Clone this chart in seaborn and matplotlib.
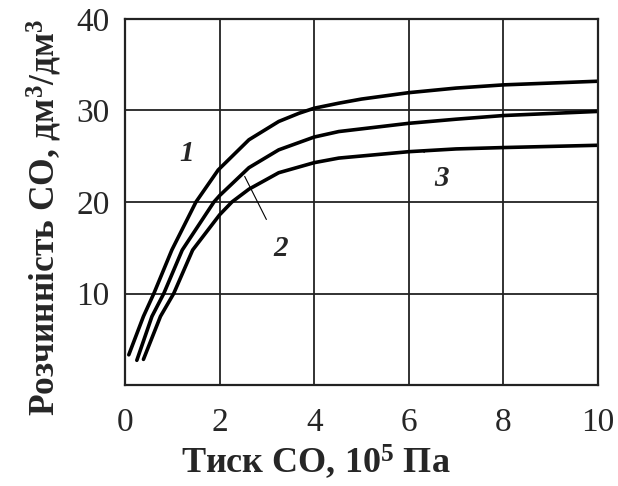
import matplotlib
matplotlib.use("Agg")
import matplotlib.pyplot as plt
import seaborn as sns
import pandas as pd

# Solubility of CO vs pressure, three curves
pressure_1 = [0.08, 0.39, 0.61, 0.99, 1.5, 1.97, 2.62, 3.25, 3.68, 4.0, 4.52, 5.0, 6.0, 7.0, 8.0, 9.0, 10.0]
solub_1 = [3.3, 7.5, 10.0, 14.75, 20.0, 23.5, 26.8, 28.8, 29.7, 30.25, 30.8, 31.25, 31.95, 32.45, 32.8, 33.0, 33.2]

pressure_2 = [0.25, 0.57, 0.82, 1.21, 1.88, 2.0, 2.62, 3.25, 4.0, 4.52, 6.0, 7.0, 8.0, 10.0]
solub_2 = [2.7, 7.5, 10.0, 14.75, 20.0, 20.7, 23.75, 25.7, 27.1, 27.7, 28.6, 29.05, 29.45, 29.9]

pressure_3 = [0.39, 0.75, 1.03, 1.43, 2.0, 2.26, 2.62, 3.25, 4.0, 4.52, 6.0, 7.0, 8.0, 10.0]
solub_3 = [2.8, 7.5, 10.0, 14.75, 18.6, 20.0, 21.4, 23.2, 24.3, 24.8, 25.5, 25.8, 25.95, 26.2]

curve_names = ["1", "2", "3"]
x_ticks = [0, 2, 4, 6, 8, 10]
y_ticks = [10, 20, 30, 40]

df = pd.concat([
    pd.DataFrame({"p": pressure_1, "s": solub_1, "curve": curve_names[0]}),
    pd.DataFrame({"p": pressure_2, "s": solub_2, "curve": curve_names[1]}),
    pd.DataFrame({"p": pressure_3, "s": solub_3, "curve": curve_names[2]}),
])

sns.set_style("white")
plt.rcParams["font.family"] = ["Liberation Serif", "DejaVu Serif"]
plt.rcParams["mathtext.fontset"] = "custom"
plt.rcParams["mathtext.rm"] = "Liberation Serif"
plt.rcParams["mathtext.bf"] = "Liberation Serif:bold"
plt.rcParams["mathtext.default"] = "bf"

W, H = 618, 486
fig = plt.figure(figsize=(W / 100, H / 100), dpi=100)
ax = fig.add_axes([125 / W, 1 - 385 / H, (598 - 125) / W, (385 - 19) / H])

sns.lineplot(data=df, x="p", y="s", units="curve", estimator=None,
             color="black", linewidth=2.6, ax=ax, sort=False)

ax.set_xlim(0, 10)
ax.set_ylim(0, 40)
ax.set_xticks(x_ticks)
ax.set_yticks(y_ticks)
ax.tick_params(axis="both", length=0, labelsize=24)
ax.tick_params(axis="x", pad=16)
ax.tick_params(axis="y", pad=11)
ax.grid(True, color="#222222", linewidth=1.3)
for sp in ax.spines.values():
    sp.set_color("#222222")
    sp.set_linewidth(1.6)
ax.set_xlabel("")
ax.set_ylabel("")

# Axis titles
fig.text(316 / W, 1 - 462 / H, "Тиск СО, 10$^5$ Па", fontsize=26,
         fontweight="bold", ha="center", va="center")
fig.text(44 / W, 1 - 218 / H, "Розчинність СО, дм$^3$/дм$^3$", fontsize=25.5,
         fontweight="bold", ha="center", va="center", rotation=90)

# Curve labels with leader lines
lbl = dict(fontsize=21, fontweight="bold", fontstyle="italic", ha="center", va="center")
ax.text(1.3, 25.3, curve_names[0], **lbl)
ax.annotate(curve_names[1], xy=(2.53, 22.8), xytext=(3.3, 14.9),
            arrowprops=dict(arrowstyle="-", color="black", lw=0.8,
                            shrinkA=10, shrinkB=0), **lbl)
ax.annotate(curve_names[2], xy=(6.3, 25.6), xytext=(6.7, 22.6),
            arrowprops=dict(arrowstyle="-", color="black", lw=0.8,
                            shrinkA=9, shrinkB=0), **lbl)

fig.savefig("out.png", dpi=100)
